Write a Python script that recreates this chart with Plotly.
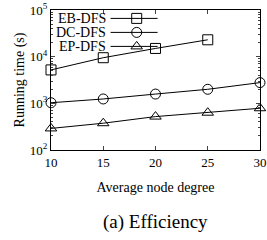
import plotly.graph_objects as go

degrees = [10, 15, 20, 25, 30]
eb_x = [10, 15, 20, 25]
eb_dfs = [5200, 9500, 15000, 23000]
dc_dfs = [1030, 1240, 1580, 2000, 2780]
ep_dfs = [290, 375, 520, 630, 785]
series_names = ["EB-DFS", "DC-DFS", "EP-DFS"]
symbols = ["square-open", "circle-open", "triangle-up-open"]
y_tickvals = [100, 1000, 10000, 100000]
y_ticktext = ["10<sup>2</sup>", "10<sup>3</sup>", "10<sup>4</sup>", "10<sup>5</sup>"]

FONT = "Times New Roman, Liberation Serif, DejaVu Serif, serif"
fig = go.Figure()
for name, xs, ys, sym in zip(series_names, [eb_x, degrees, degrees], [eb_dfs, dc_dfs, ep_dfs], symbols):
    fig.add_trace(go.Scatter(x=xs, y=ys, mode="lines+markers", name=name, cliponaxis=False,
                             line=dict(color="black", width=1),
                             marker=dict(symbol=sym, size=10, color="black", line=dict(width=1, color="black")),
                             showlegend=False))

# manual gnuplot-style legend (text, then line sample with marker)
leg_y = [0.94, 0.84, 0.74]
for name, sym, ly in zip(series_names, symbols, leg_y):
    fig.add_annotation(x=0.275, y=ly, xref="paper", yref="paper", text=name, showarrow=False,
                       xanchor="right", yanchor="middle", font=dict(family=FONT, size=14, color="black"))
    fig.add_trace(go.Scatter(x=[0.285, 0.51], y=[ly, ly], xaxis="x2", yaxis="y2", mode="lines",
                             line=dict(color="black", width=1), showlegend=False, hoverinfo="skip"))
    fig.add_trace(go.Scatter(x=[0.41], y=[ly], xaxis="x2", yaxis="y2", mode="markers",
                             marker=dict(symbol=sym, size=10, color="black", line=dict(width=1, color="black")),
                             showlegend=False, hoverinfo="skip"))

fig.add_annotation(x=0.5, y=-0.514, xref="paper", yref="paper", text="(a) Efficiency", showarrow=False,
                   xanchor="center", yanchor="middle", font=dict(family=FONT, size=19, color="black"))

fig.update_layout(
    width=267, height=240,
    margin=dict(l=51, r=7, t=10, b=90),
    paper_bgcolor="white", plot_bgcolor="white",
    font=dict(family=FONT, size=13, color="black"),
    xaxis=dict(range=[10, 30], tickvals=degrees, ticks="inside", ticklen=4, mirror="allticks",
               showline=True, linecolor="black", linewidth=1, showgrid=False, zeroline=False,
               automargin=False,
               title=dict(text="Average node degree", font=dict(family=FONT, size=14), standoff=13),
               tickfont=dict(family=FONT, size=13)),
    yaxis=dict(type="log", range=[2, 5], tickvals=y_tickvals, ticktext=y_ticktext,
               ticks="inside", ticklen=4, mirror="allticks", showline=True, linecolor="black", linewidth=1,
               showgrid=False, zeroline=False, automargin=False,
               minor=dict(ticks="inside", ticklen=2, dtick="D1", showgrid=False),
               title=dict(text="Running time (s)", font=dict(family=FONT, size=14), standoff=1),
               tickfont=dict(family=FONT, size=13)),
    xaxis2=dict(range=[0, 1], overlaying="x", visible=False),
    yaxis2=dict(range=[0, 1], overlaying="y", visible=False),
)
fig.write_html("out.html", config={"displayModeBar": False},
               post_script="document.body.style.margin='0';document.body.style.overflow='hidden';")
